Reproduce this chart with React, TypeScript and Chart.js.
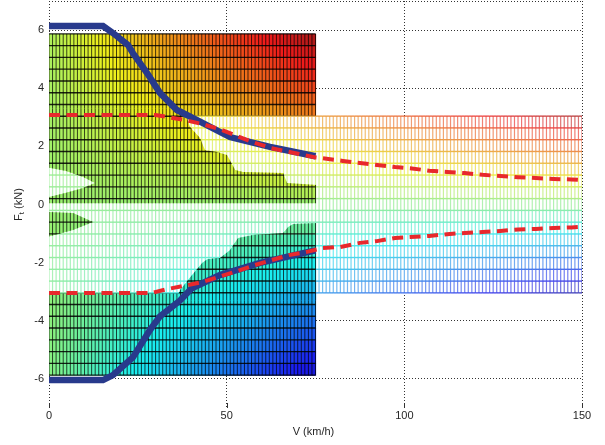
import React, { useEffect, useRef } from 'react';
import { Chart, registerables } from 'chart.js';

Chart.register(...registerables);

// ---------------- data ----------------
const xTickValues = [0, 50, 100, 150];
const yTickValues = [-7, -6, -4, -2, 0, 2, 4, 6, 7];

// maximum force envelope (blue, thick)
const maxUpperSpeed = [0, 15.2, 18, 22.2, 23.6, 27.6, 31.2, 36, 42.5, 50.9, 62.2, 75];
const maxUpperForce = [6.14, 6.14, 5.9, 5.49, 5.21, 4.52, 3.84, 3.25, 2.85, 2.32, 1.98, 1.66];
const maxLowerSpeed = [0, 15.2, 18, 23.6, 28.4, 31.2, 36.9, 40.2, 48.1, 59.4, 75];
const maxLowerForce = [-6.04, -6.04, -5.87, -5.26, -4.32, -3.85, -3.3, -2.88, -2.43, -2.01, -1.58];

// limited force curve (red, dashed)
const limUpperSpeed = [0, 30, 33.3, 38, 43, 47.8, 52, 57, 62.5, 68, 75, 82.7, 87.5, 92.3, 97.4, 101.6, 107, 112, 117, 122, 127, 132, 137, 142, 147, 150];
const limUpperForce = [3.08, 3.08, 3.01, 2.91, 2.77, 2.6, 2.4, 2.16, 1.94, 1.8, 1.62, 1.5, 1.43, 1.36, 1.29, 1.25, 1.16, 1.12, 1.08, 1.02, 0.98, 0.94, 0.91, 0.88, 0.86, 0.84];
const limLowerSpeed = [0, 29, 33.2, 38, 43, 47.8, 52.9, 58, 62.8, 67.5, 72.6, 77, 82, 87.5, 92.3, 97.4, 101.6, 107, 112, 117, 122, 127, 132, 137, 142, 147, 150];
const limLowerForce = [-3.04, -3.04, -2.91, -2.8, -2.67, -2.49, -2.29, -2.08, -1.91, -1.74, -1.63, -1.5, -1.46, -1.32, -1.26, -1.15, -1.12, -1.08, -1.02, -0.98, -0.95, -0.91, -0.86, -0.84, -0.81, -0.79, -0.77];

// surfaces (extent in km/h and kN) and mesh spacing
const denseSpeedRange = [0, 75];
const denseForceRange = [-5.87, 5.87];
const lightSpeedRange = [0, 150];
const lightForceRange = [-3.04, 3.04];
const meshSpeedStep = 1;
const meshForceStep = 0.405;

// outlines where the dense surface shows through the light band
const pierceUpperSpeed = [0, 38, 39.7, 42.5, 43.9, 47.3, 50.1, 52.4, 54.6, 65.9, 67.0, 75.5, 75.5, 0, 0, 4.8, 9.6, 12.9, 9.6, 4.8, 0];
const pierceUpperForce = [3.3, 3.3, 2.67, 2.29, 1.87, 1.81, 1.70, 1.19, 1.12, 1.08, 0.74, 0.67, 0.04, 0.04, 0.26, 0.4, 0.57, 0.74, 0.95, 1.15, 1.26];
const pierceLowerSpeed = [0, 75.5, 75.5, 68.7, 67.3, 65.9, 57.4, 53.2, 50.9, 48.1, 44.5, 43.1, 40.2, 36.9, 35.5, 0];
const pierceLowerForce = [-3.3, -3.3, -0.64, -0.67, -0.77, -0.98, -1.05, -1.15, -1.57, -1.84, -1.88, -2.01, -2.43, -2.94, -3.3, -3.3];
const pierceNotchSpeed = [0, 6.8, 12.4, 6.8, 0];
const pierceNotchForce = [-0.26, -0.29, -0.6, -0.88, -1.1];

// ---------------- styling helpers ----------------
const clamp = (v: number) => Math.max(0, Math.min(1, v));
function jet(c: number): number[] {
  c = clamp(c);
  return [
    clamp(Math.min(4 * c - 1.5, -4 * c + 4.5)),
    clamp(Math.min(4 * c - 0.5, -4 * c + 3.5)),
    clamp(Math.min(4 * c + 0.5, -4 * c + 2.5)),
  ];
}
// colour level follows the power-like product of force and speed
const denseLevel = (v: number, f: number) => 0.525 + 0.00095 * f * (v + 4);
const lightLevel = (v: number, f: number) => 0.5 + 0.00097 * f * (v + 4);
const denseColour = (v: number, f: number) => {
  const [r, g, b] = jet(denseLevel(v, f));
  const m = (u: number) => Math.round((0.84 * u + 0.1) * 255);
  return `rgb(${m(r)},${m(g)},${m(b)})`;
};
const lightColour = (v: number, f: number, a: number) => {
  const [r, g, b] = jet(lightLevel(v, f));
  const m = (u: number) => Math.round((0.7 * u + 0.22) * 255);
  return `rgba(${m(r)},${m(g)},${m(b)},${a})`;
};
function edges(range: number[], step: number): number[] {
  const n = Math.round((range[1] - range[0]) / step);
  const out: number[] = [];
  for (let i = 0; i <= n; i++) out.push(range[0] + ((range[1] - range[0]) * i) / n);
  return out;
}
const pts = (xs: number[], ys: number[]) => xs.map((x, i) => ({ x, y: ys[i] }));

function drawDense(ctx: CanvasRenderingContext2D, sx: any, sy: any) {
  const vs = edges(denseSpeedRange, meshSpeedStep);
  const fs = edges(denseForceRange, meshForceStep);
  const px = vs.map((v) => sx.getPixelForValue(v));
  const py = fs.map((f) => sy.getPixelForValue(f));
  for (let i = 0; i < vs.length - 1; i++) {
    for (let j = 0; j < fs.length - 1; j++) {
      ctx.fillStyle = denseColour((vs[i] + vs[i + 1]) / 2, (fs[j] + fs[j + 1]) / 2);
      ctx.fillRect(px[i], py[j + 1], px[i + 1] - px[i] + 0.6, py[j] - py[j + 1] + 0.6);
    }
  }
  ctx.strokeStyle = 'rgba(0,0,0,0.72)';
  ctx.lineWidth = 1.0;
  ctx.beginPath();
  for (let i = 0; i < px.length; i++) {
    ctx.moveTo(px[i], py[0]);
    ctx.lineTo(px[i], py[py.length - 1]);
  }
  ctx.stroke();
  ctx.strokeStyle = 'rgba(0,0,0,0.85)';
  ctx.lineWidth = 1.4;
  ctx.beginPath();
  for (let j = 0; j < py.length; j++) {
    ctx.moveTo(px[0], py[j]);
    ctx.lineTo(px[px.length - 1], py[j]);
  }
  ctx.stroke();
}

function drawLight(ctx: CanvasRenderingContext2D, sx: any, sy: any) {
  const vs = edges(lightSpeedRange, meshSpeedStep);
  const fs = edges(lightForceRange, meshForceStep);
  const px = vs.map((v) => sx.getPixelForValue(v));
  const py = fs.map((f) => sy.getPixelForValue(f));
  ctx.fillStyle = '#ffffff';
  ctx.fillRect(px[0], py[py.length - 1], px[px.length - 1] - px[0], py[0] - py[py.length - 1]);
  ctx.lineWidth = 1.2;
  for (let i = 0; i < vs.length; i++) {
    for (let j = 0; j < fs.length - 1; j++) {
      ctx.strokeStyle = lightColour(vs[i], (fs[j] + fs[j + 1]) / 2, 0.7);
      ctx.beginPath();
      ctx.moveTo(px[i], py[j]);
      ctx.lineTo(px[i], py[j + 1]);
      ctx.stroke();
    }
  }
  ctx.lineWidth = 1.4;
  for (let j = 0; j < fs.length; j++) {
    for (let i = 0; i < vs.length - 1; i++) {
      ctx.strokeStyle = lightColour((vs[i] + vs[i + 1]) / 2, fs[j], 0.9);
      ctx.beginPath();
      ctx.moveTo(px[i], py[j]);
      ctx.lineTo(px[i + 1], py[j]);
      ctx.stroke();
    }
  }
}

function polyPath(ctx: CanvasRenderingContext2D, sx: any, sy: any, xs: number[], ys: number[]) {
  xs.forEach((v, i) => {
    const X = sx.getPixelForValue(v);
    const Y = sy.getPixelForValue(ys[i]);
    if (i === 0) ctx.moveTo(X, Y);
    else ctx.lineTo(X, Y);
  });
  ctx.closePath();
}

const FONT = '"Liberation Sans", Arial, sans-serif';
const TEXT = '#262626';

const surfacePlugin = {
  id: 'surfaces',
  beforeDatasetsDraw(chart: any) {
    const { ctx, chartArea: a, scales } = chart;
    const sx = scales.x;
    const sy = scales.y;
    ctx.save();
    ctx.beginPath();
    ctx.rect(a.left, a.top, a.right - a.left, a.bottom - a.top);
    ctx.clip();
    drawDense(ctx, sx, sy);
    drawLight(ctx, sx, sy);
    ctx.save();
    ctx.beginPath();
    polyPath(ctx, sx, sy, pierceUpperSpeed, pierceUpperForce);
    polyPath(ctx, sx, sy, pierceLowerSpeed, pierceLowerForce);
    polyPath(ctx, sx, sy, pierceNotchSpeed, pierceNotchForce);
    ctx.clip();
    drawDense(ctx, sx, sy);
    ctx.restore();
    ctx.restore();
  },
  afterDraw(chart: any) {
    const { ctx, chartArea: a, scales } = chart;
    ctx.save();
    // inward tick marks on the bottom axis
    ctx.strokeStyle = '#333';
    ctx.lineWidth = 1;
    ctx.beginPath();
    xTickValues.forEach((v) => {
      const X = Math.round(scales.x.getPixelForValue(v)) + 0.5;
      ctx.moveTo(X, a.bottom - 5);
      ctx.lineTo(X, a.bottom);
    });
    ctx.stroke();
    // axis titles
    ctx.fillStyle = TEXT;
    ctx.textBaseline = 'middle';
    ctx.textAlign = 'center';
    ctx.font = `11px ${FONT}`;
    ctx.fillText('V (km/h)', (a.left + a.right) / 2 - 2, 432);
    ctx.translate(19, (a.top + a.bottom) / 2);
    ctx.rotate(-Math.PI / 2);
    ctx.textAlign = 'left';
    const main = `11px ${FONT}`;
    const sub = `8px ${FONT}`;
    ctx.font = main;
    const w1 = ctx.measureText('F').width;
    const w3 = ctx.measureText(' (kN)').width;
    ctx.font = sub;
    const w2 = ctx.measureText('t').width;
    const x0 = -(w1 + w2 + w3) / 2;
    ctx.font = main;
    ctx.fillText('F', x0, 0);
    ctx.font = sub;
    ctx.fillText('t', x0 + w1, 3);
    ctx.font = main;
    ctx.fillText(' (kN)', x0 + w1 + w2, 0);
    ctx.restore();
  },
};

export default function App() {
  const ref = useRef<HTMLCanvasElement | null>(null);
  useEffect(() => {
    if (!ref.current) return;
    const chart = new Chart(ref.current, {
      type: 'line',
      data: {
        datasets: [
          { data: pts(limUpperSpeed, limUpperForce), borderColor: '#e8282c', borderWidth: 4, borderDash: [11, 6.5], pointRadius: 0, fill: false, tension: 0 },
          { data: pts(limLowerSpeed, limLowerForce), borderColor: '#e8282c', borderWidth: 4, borderDash: [11, 6.5], pointRadius: 0, fill: false, tension: 0 },
          { data: pts(maxUpperSpeed, maxUpperForce), borderColor: '#283a8c', borderWidth: 6.5, pointRadius: 0, fill: false, tension: 0 },
          { data: pts(maxLowerSpeed, maxLowerForce), borderColor: '#283a8c', borderWidth: 6.5, pointRadius: 0, fill: false, tension: 0 },
        ],
      } as any,
      options: {
        animation: false,
        responsive: false,
        maintainAspectRatio: false,
        layout: { padding: { top: 1, right: 23, left: 0, bottom: 0 } },
        plugins: { legend: { display: false }, tooltip: { enabled: false } },
        scales: {
          x: {
            type: 'linear',
            min: 0,
            max: 150,
            afterFit: (s: any) => { s.height = 37; s.paddingLeft = 0; s.paddingRight = 0; },
            afterBuildTicks: (s: any) => { s.ticks = xTickValues.map((v) => ({ value: v })); },
            ticks: { font: { family: FONT, size: 11 }, color: TEXT, padding: 1, maxRotation: 0, autoSkip: false },
            grid: { color: '#333', lineWidth: 1, drawTicks: false },
            border: { display: false, dash: [1, 2] },
          },
          y: {
            type: 'linear',
            min: -7,
            max: 7,
            afterFit: (s: any) => { s.width = 49; s.paddingTop = 0; s.paddingBottom = 0; },
            afterBuildTicks: (s: any) => { s.ticks = yTickValues.map((v) => ({ value: v })); },
            ticks: {
              font: { family: FONT, size: 11 },
              color: TEXT,
              padding: 5,
              autoSkip: false,
              callback: (v: any) => (Math.abs(Number(v)) === 7 ? '' : String(v)),
            },
            grid: {
              color: (c: any) => (c.tick && c.tick.value === -7 ? 'rgba(0,0,0,0)' : '#333'),
              lineWidth: 1,
              drawTicks: false,
            },
            border: { display: false, dash: [1, 2] },
          },
        },
      } as any,
      plugins: [surfacePlugin],
    });
    return () => chart.destroy();
  }, []);
  return (
    <div style={{ position: 'absolute', left: 0, top: 0, width: 605, height: 445, background: '#fff' }}>
      <canvas ref={ref} width={605} height={445} style={{ display: 'block' }} />
    </div>
  );
}
